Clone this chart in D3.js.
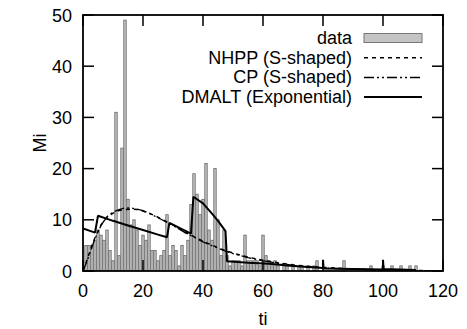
<!DOCTYPE html>
<html>
<head>
<meta charset="utf-8">
<script src="https://cdn.jsdelivr.net/npm/d3@7"></script>
<style>
  body { margin: 0; background: #fff; }
  text { font-family: "Liberation Sans", Arial, Helvetica, sans-serif; fill: #000; }
</style>
</head>
<body>
<figure id="chart" style="margin:0"></figure>
<script>
// observed number of faults per interval, ti = 1..111
const counts = [
  5, 5, 5, 6, 8, 7, 6, 8, 4, 2,
  31, 3, 24, 49, 14, 9, 10, 8, 5, 7,
  6, 9, 4, 4, 2, 3, 4, 11, 3, 5,
  4, 1, 5, 3, 6, 13, 19, 15, 11, 14,
  21, 8, 6, 20, 10, 3, 8, 3, 1, 2,
  2, 2, 1, 7, 2, 2, 2, 2, 1, 7,
  3, 2, 1, 2, 1, 0, 1, 1, 0, 1,
  0, 1, 1, 0, 1, 0, 1, 2, 0, 0,
  0, 0, 0, 0, 0, 0, 2, 0, 0, 0,
  0, 0, 0, 0, 0, 1, 0, 0, 0, 1,
  0, 0, 1, 0, 0, 1, 0, 0, 1, 0,
  1
];

// fitted curves
const curveT = [0, 1, 2, 3, 4, 6, 8, 10, 12, 14, 16, 18, 20, 22, 24, 26, 28, 30, 32, 34, 36, 38, 40, 42, 44, 46, 48, 50, 55, 60, 65, 70, 75, 80, 90, 100, 110, 118];
const nhpp = [0, 1.6, 3.3, 5.0, 6.5, 9.0, 10.5, 11.3, 11.8, 12.0, 12.1, 12.0, 11.7, 11.3, 10.8, 10.2, 9.6, 9.0, 8.3, 7.6, 7.0, 6.4, 5.8, 5.3, 4.8, 4.3, 3.9, 3.5, 2.7, 2.1, 1.6, 1.2, 0.9, 0.7, 0.4, 0.2, 0.1, 0.05];
const cp   = [0, 1.4, 3.0, 4.7, 6.3, 8.9, 10.6, 11.5, 12.0, 12.3, 12.3, 12.1, 11.8, 11.3, 10.7, 10.1, 9.5, 8.9, 8.2, 7.5, 6.9, 6.3, 5.7, 5.2, 4.7, 4.2, 3.8, 3.4, 2.6, 2.0, 1.5, 1.1, 0.8, 0.6, 0.35, 0.2, 0.1, 0.05];

const dmaltT = [0, 4, 5, 10, 15, 20, 25, 28, 28.8, 36, 36.8, 40, 43, 45, 47.5, 48, 55, 62, 70, 80, 80, 80.2, 90, 100, 100, 100.2, 111];
const dmalt  = [8.3, 7.5, 10.8, 9.8, 8.9, 8.0, 7.1, 6.6, 9.4, 7.3, 14.5, 13.2, 11.2, 9.8, 7.8, 1.9, 1.6, 1.4, 1.0, 0.6, 2.2, 0.5, 0.4, 0.3, 2.2, 0.4, 0.2];

const xTicks = [0, 20, 40, 60, 80, 100, 120];
const yTicks = [0, 10, 20, 30, 40, 50];

const legendItems = [
  { name: "data", kind: "box" },
  { name: "NHPP (S-shaped)", kind: "line", dash: "4,4" },
  { name: "CP (S-shaped)", kind: "line", dash: "10,3,2,3,2,3" },
  { name: "DMALT (Exponential)", kind: "line", dash: null }
];

const width = 467, height = 329;
const margin = { top: 15, right: 24, bottom: 58, left: 83 };
const w = width - margin.left - margin.right;
const h = height - margin.top - margin.bottom;

const svg = d3.select("figure#chart")
  .append("svg")
  .attr("width", width)
  .attr("height", height);

const g = svg.append("g")
  .attr("transform", "translate(" + margin.left + "," + margin.top + ")");

const x = d3.scaleLinear().domain([0, 120]).range([0, w]);
const y = d3.scaleLinear().domain([0, 50]).range([h, 0]);

svg.append("clipPath").attr("id", "plotclip")
  .append("rect").attr("width", w).attr("height", h);

const plot = g.append("g").attr("clip-path", "url(#plotclip)");

// bars
const bw = 0.8;
plot.selectAll("rect.bar")
  .data(counts.map((d, i) => ({ t: i + 1, v: d })).filter(d => d.v > 0))
  .enter()
  .append("rect")
  .attr("class", "bar")
  .attr("x", d => x(d.t - bw / 2))
  .attr("y", d => y(d.v))
  .attr("width", x(bw) - x(0))
  .attr("height", d => y(0) - y(d.v))
  .attr("fill", "#c4c4c4")
  .attr("stroke", "#666")
  .attr("stroke-width", 0.8);

const line = d3.line().x(d => x(d[0])).y(d => y(d[1]));

plot.append("path")
  .attr("d", line(curveT.map((t, i) => [t, nhpp[i]])))
  .attr("fill", "none")
  .attr("stroke", "#000")
  .attr("stroke-width", 1.5)
  .attr("stroke-dasharray", legendItems[1].dash);

plot.append("path")
  .attr("d", line(curveT.map((t, i) => [t, cp[i]])))
  .attr("fill", "none")
  .attr("stroke", "#000")
  .attr("stroke-width", 1.3)
  .attr("stroke-dasharray", legendItems[2].dash);

plot.append("path")
  .attr("d", line(dmaltT.map((t, i) => [t, dmalt[i]])))
  .attr("fill", "none")
  .attr("stroke", "#000")
  .attr("stroke-width", 2)
  .attr("stroke-linejoin", "bevel");

// ticks, mirrored on all sides, pointing in
const tl = 11;
xTicks.forEach(t => {
  g.append("line").attr("x1", x(t)).attr("x2", x(t)).attr("y1", h).attr("y2", h - tl)
    .attr("stroke", "#000").attr("stroke-width", 1.5);
  g.append("line").attr("x1", x(t)).attr("x2", x(t)).attr("y1", 0).attr("y2", tl)
    .attr("stroke", "#000").attr("stroke-width", 1.5);
  g.append("text").attr("x", x(t)).attr("y", h + 26)
    .attr("text-anchor", "middle").style("font-size", "18px").text(t);
});
yTicks.forEach(t => {
  g.append("line").attr("x1", 0).attr("x2", tl).attr("y1", y(t)).attr("y2", y(t))
    .attr("stroke", "#000").attr("stroke-width", 1.5);
  g.append("line").attr("x1", w).attr("x2", w - tl).attr("y1", y(t)).attr("y2", y(t))
    .attr("stroke", "#000").attr("stroke-width", 1.5);
  g.append("text").attr("x", -11).attr("y", y(t) + 6.5)
    .attr("text-anchor", "end").style("font-size", "18px").text(t);
});

// frame
g.append("rect")
  .attr("width", w).attr("height", h)
  .attr("fill", "none").attr("stroke", "#000").attr("stroke-width", 1.8);

// axis titles
svg.append("text")
  .attr("x", margin.left + x(60)).attr("y", 325)
  .attr("text-anchor", "middle").style("font-size", "18px").text("ti");
svg.append("text")
  .attr("transform", "translate(46," + (margin.top + h / 2) + ") rotate(-90)")
  .attr("text-anchor", "middle").style("font-size", "18px").text("Mi");

// legend
const legend = svg.append("g");
legendItems.forEach((d, i) => {
  const ly = 38 + i * 19.7;
  legend.append("text")
    .attr("x", 352).attr("y", ly + 6)
    .attr("text-anchor", "end").style("font-size", "18px").text(d.name);
  if (d.kind === "box") {
    legend.append("rect")
      .attr("x", 364).attr("y", ly - 4.5).attr("width", 58).attr("height", 9)
      .attr("fill", "#c4c4c4").attr("stroke", "#777").attr("stroke-width", 1);
  } else {
    legend.append("line")
      .attr("x1", 364).attr("x2", 422).attr("y1", ly).attr("y2", ly)
      .attr("stroke", "#000").attr("stroke-width", d.dash ? 1.5 : 2)
      .attr("stroke-dasharray", d.dash);
  }
});
</script>
</body>
</html>
